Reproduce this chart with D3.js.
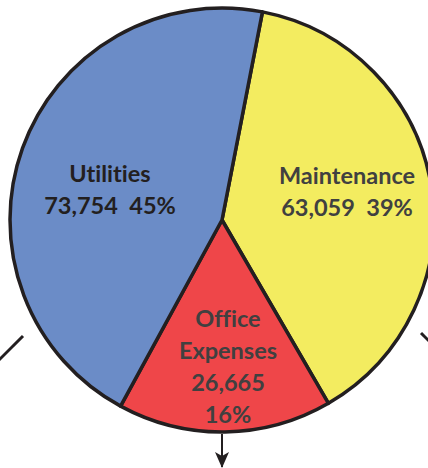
<!DOCTYPE html>
<html><head><meta charset="utf-8">
<script src="https://cdn.jsdelivr.net/npm/d3@7"></script>
<style>html,body{margin:0;padding:0;background:#fff;overflow:hidden}
text{font-variant-ligatures:none;font-feature-settings:"liga" 0,"clig" 0}</style>
</head><body>
<svg id="c" width="428" height="468"></svg>
<script>
const categories = ["Maintenance", "Office Expenses", "Utilities"];
const values = [63059, 26665, 73754];
const percents = ["39%", "16%", "45%"];
const colors = ["#F3EC60", "#EF4649", "#6B8CC7"];

const svg = d3.select("#c");
const cx = 222, cy = 220, R = 212;
const g = svg.append("g").attr("transform", `translate(${cx},${cy})`);

const a0 = 11 * Math.PI / 180;
const pie = d3.pie().sort(null).value(d => d.v).startAngle(a0).endAngle(a0 + 2 * Math.PI);
const data = categories.map((c, i) => ({c, v: values[i], p: percents[i], col: colors[i]}));
const arcs = pie(data);
const arc = d3.arc().innerRadius(0).outerRadius(R);

g.selectAll("path.s").data(arcs).enter().append("path")
  .attr("d", arc).attr("fill", d => d.data.col)
  .attr("stroke", "#231F20").attr("stroke-width", 3.5).attr("stroke-linejoin", "round");

const fmt = d3.format(",");
// label layout per slice: anchor of first baseline relative to centre
const lay = {
  "Maintenance": {x: 125, y: -36, lines: d => [d.c, fmt(d.v) + "\u00A0\u00A0" + d.p], color: "#404040"},
  "Office Expenses": {x: 6, y: 107, lines: d => ["Office", "Expenses", fmt(d.v), d.p], color: "#404040"},
  "Utilities": {x: -112, y: -38, lines: d => [d.c, fmt(d.v) + "\u00A0\u00A0" + d.p], color: "#231F20"}
};
const lh = 32;
arcs.forEach(a => {
  const L = lay[a.data.c];
  const lines = L.lines(a.data);
  const t = g.append("text").attr("text-anchor", "middle")
    .attr("font-family", "Lato, 'Open Sans', sans-serif").attr("font-weight", "bold")
    .attr("font-size", 23.5).attr("fill", L.color);
  lines.forEach((s, i) => {
    t.append("tspan").attr("x", L.x).attr("y", L.y + i * lh).text(s);
  });
});

// arrows
const defs = svg.append("defs");
defs.append("marker").attr("id", "ah").attr("viewBox", "0 0 16 14").attr("refX", 15).attr("refY", 7)
  .attr("markerWidth", 16).attr("markerHeight", 14).attr("markerUnits", "userSpaceOnUse").attr("orient", "auto")
  .append("path").attr("d", "M0,0 L16,7 L0,14 L4,7 Z").attr("fill", "#231F20");

svg.append("line").attr("x1", 23).attr("y1", 336).attr("x2", -30).attr("y2", 389)
  .attr("stroke", "#231F20").attr("stroke-width", 3);
svg.append("line").attr("x1", 421).attr("y1", 333).attr("x2", 470).attr("y2", 382)
  .attr("stroke", "#231F20").attr("stroke-width", 3);
svg.append("line").attr("x1", 222).attr("y1", 434).attr("x2", 222).attr("y2", 467)
  .attr("stroke", "#231F20").attr("stroke-width", 2).attr("marker-end", "url(#ah)");
</script>
</body></html>
